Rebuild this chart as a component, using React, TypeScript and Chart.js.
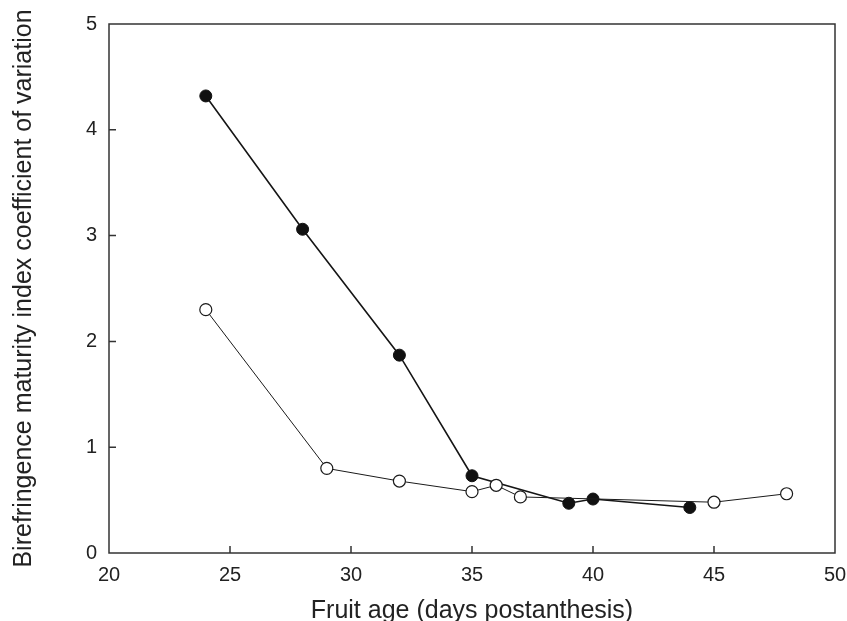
import React, { useEffect, useRef } from "react";
import { Chart, registerables } from "chart.js";

Chart.register(...registerables);

const filledX = [24, 28, 32, 35, 39, 40, 44];
const filledY = [4.32, 3.06, 1.87, 0.73, 0.47, 0.51, 0.43];
const openX = [24, 29, 32, 35, 36, 37, 45, 48];
const openY = [2.3, 0.8, 0.68, 0.58, 0.64, 0.53, 0.48, 0.56];
const xTicks = [20, 25, 30, 35, 40, 45, 50];
const yTicks = [0, 1, 2, 3, 4, 5];
const xTitle = "Fruit age (days postanthesis)";
const yTitle = "Birefringence maturity index coefficient of variation";

const AXIS_COLOR = "#333";
const FONT = "Liberation Sans, Arial, sans-serif";

const framePlugin = {
  id: "frameTicks",
  afterDraw(chart: any) {
    const { ctx, chartArea } = chart;
    const { left, right, top, bottom } = chartArea;
    ctx.save();
    ctx.strokeStyle = AXIS_COLOR;
    ctx.lineWidth = 1.5;
    ctx.strokeRect(left, top, right - left, bottom - top);
    const tl = 7;
    const xs = chart.scales.x;
    const ys = chart.scales.y;
    ctx.beginPath();
    xTicks.forEach((v) => {
      const px = xs.getPixelForValue(v);
      if (px > left + 1 && px < right - 1) {
        ctx.moveTo(px, bottom);
        ctx.lineTo(px, bottom - tl);
      }
    });
    yTicks.forEach((v) => {
      const py = ys.getPixelForValue(v);
      if (py > top + 1 && py < bottom - 1) {
        ctx.moveTo(left, py);
        ctx.lineTo(left + tl, py);
      }
    });
    ctx.stroke();
    ctx.restore();
  },
};

export default function App() {
  const ref = useRef<HTMLCanvasElement>(null);
  useEffect(() => {
    document.body.style.margin = "0";
    const chart = new Chart(ref.current!, {
      type: "line",
      data: {
        datasets: [
          {
            data: openX.map((x, i) => ({ x, y: openY[i] })),
            borderColor: "#1a1a1a",
            borderWidth: 1,
            pointRadius: 6,
            pointBorderWidth: 1.2,
            pointBackgroundColor: "#fff",
            pointBorderColor: "#1a1a1a",
            tension: 0,
          },
          {
            data: filledX.map((x, i) => ({ x, y: filledY[i] })),
            borderColor: "#151515",
            borderWidth: 1.6,
            pointRadius: 6,
            pointBorderWidth: 1,
            pointBackgroundColor: "#111",
            pointBorderColor: "#111",
            tension: 0,
          },
        ],
      },
      options: {
        animation: false,
        responsive: false,
        devicePixelRatio: 1,
        layout: { padding: { left: 0, top: 24, right: 12, bottom: 0 } },
        plugins: { legend: { display: false }, tooltip: { enabled: false } },
        scales: {
          x: {
            type: "linear",
            min: 20,
            max: 50,
            afterBuildTicks: (s: any) => {
              s.ticks = xTicks.map((v) => ({ value: v }));
            },
            afterFit: (s: any) => {
              s.height = 68;
              s.paddingLeft = 0;
              s.paddingRight = 0;
            },
            grid: { display: false, drawTicks: false },
            border: { display: false },
            ticks: {
              color: "#222",
              font: { family: FONT, size: 20 },
              padding: 10,
              maxRotation: 0,
              autoSkip: false,
            },
            title: {
              display: true,
              text: xTitle,
              color: "#222",
              font: { family: FONT, size: 25, lineHeight: 1 },
              padding: { top: 0, bottom: -3 },
            },
          },
          y: {
            type: "linear",
            min: 0,
            max: 5,
            afterBuildTicks: (s: any) => {
              s.ticks = yTicks.map((v) => ({ value: v }));
            },
            afterFit: (s: any) => {
              s.width = 109;
              s.paddingTop = 0;
              s.paddingBottom = 0;
            },
            grid: { display: false, drawTicks: false },
            border: { display: false },
            ticks: {
              color: "#222",
              font: { family: FONT, size: 20 },
              padding: 12,
              autoSkip: false,
            },
            title: {
              display: true,
              text: yTitle,
              color: "#222",
              font: { family: FONT, size: 25, lineHeight: 1 },
              padding: { top: 12, bottom: 0 },
            },
          },
        },
      },
      plugins: [framePlugin],
    });
    return () => chart.destroy();
  }, []);
  return (
    <div style={{ position: "absolute", left: 0, top: 0, width: 847, height: 621, background: "#fff" }}>
      <canvas ref={ref} width={847} height={621} />
    </div>
  );
}
